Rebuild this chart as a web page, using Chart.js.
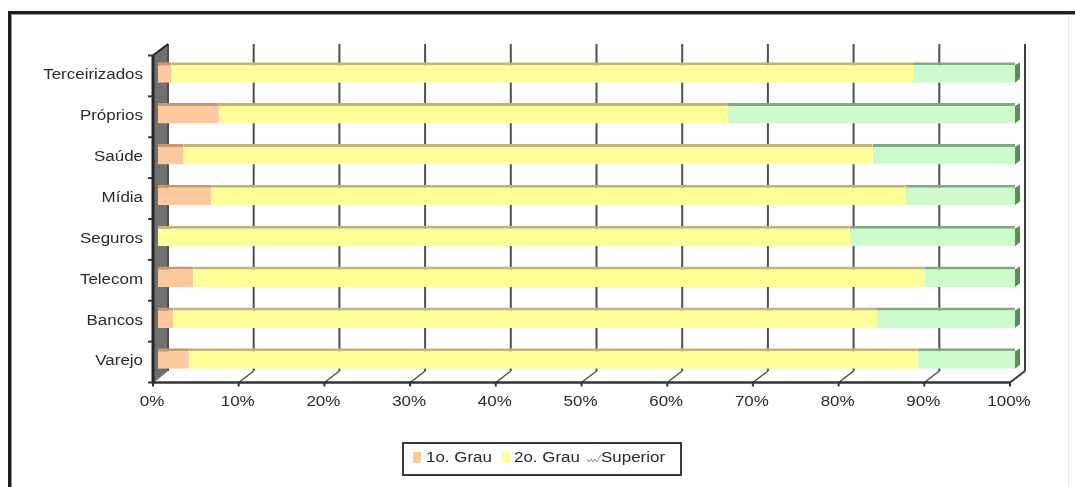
<!DOCTYPE html>
<html>
<head>
<meta charset="utf-8">
<script src="https://cdn.jsdelivr.net/npm/chart.js@4.4.1/dist/chart.umd.min.js"></script>
<style>
  html, body { margin: 0; padding: 0; background: #ffffff; overflow: hidden; }
  canvas { display: block; }
</style>
</head>
<body>
<canvas id="chart" width="1075" height="487"></canvas>
<script>
// Escolaridade por segmento (%), empilhado a 100%
const categories = ['Terceirizados', 'Próprios', 'Saúde', 'Mídia', 'Seguros', 'Telecom', 'Bancos', 'Varejo'];
const primeiroGrau = [1.6, 7.1, 3.0, 6.2, 0, 4.1, 1.8, 3.6];
const segundoGrau  = [86.5, 59.4, 80.4, 81.0, 80.7, 85.3, 82.1, 85.1];
const superior     = [11.9, 33.5, 16.6, 12.8, 19.3, 10.6, 16.1, 11.3];
const seriesNames  = ['1o. Grau', '2o. Grau', 'Superior'];
const tickValues   = [0, 10, 20, 30, 40, 50, 60, 70, 80, 90, 100];
const tickLabels   = ['0%', '10%', '20%', '30%', '40%', '50%', '60%', '70%', '80%', '90%', '100%'];

const FONT = '14px "Liberation Sans", Arial, sans-serif';
const TEXT_COLOR = '#2a2a2a';
const STRETCH = 1.21;           // wide text
const FRONT = { dx: -5, dy: 3.5 };  // front edge of the 3D box, relative to the bars
const BACK  = { dx: 10, dy: -8 };   // back wall, relative to the bars

function wideText(ctx, text, x, y, align) {
  ctx.save();
  ctx.translate(x, y);
  ctx.scale(STRETCH, 1);
  ctx.font = FONT;
  ctx.fillStyle = TEXT_COLOR;
  ctx.textAlign = align;
  ctx.textBaseline = 'middle';
  ctx.fillText(text, 0, 0);
  ctx.restore();
}

function line(ctx, x1, y1, x2, y2, color, w) {
  ctx.beginPath();
  ctx.moveTo(x1, y1);
  ctx.lineTo(x2, y2);
  ctx.strokeStyle = color;
  ctx.lineWidth = w;
  ctx.stroke();
}

const boxPlugin = {
  id: 'box3d',
  beforeDraw(chart) {
    const ctx = chart.ctx;
    ctx.save();
    ctx.fillStyle = '#ffffff';
    ctx.fillRect(0, 0, chart.width, chart.height);
    // outer frame (top and left)
    ctx.fillStyle = '#1e1e1e';
    ctx.fillRect(8, 11, chart.width - 8, 3);
    ctx.fillRect(8, 11, 3, chart.height - 11);
    ctx.fillStyle = '#9a9a9a';
    ctx.fillRect(11, 14, chart.width - 11, 1);
    ctx.fillRect(11, 14, 1, chart.height - 14);
    ctx.fillStyle = '#ececec';
    ctx.fillRect(1068, 15, 1, chart.height - 15);
    ctx.restore();
  },
  beforeDatasetsDraw(chart) {
    const { ctx, chartArea: a, scales: { x } } = chart;
    const fx = v => x.getPixelForValue(v) + FRONT.dx;
    const bk = v => x.getPixelForValue(v) + BACK.dx;
    const fT = a.top + FRONT.dy, fB = a.bottom + FRONT.dy;
    const bT = a.top + BACK.dy,  bB = a.bottom + BACK.dy;
    ctx.save();
    // left wall
    ctx.beginPath();
    ctx.moveTo(fx(0) + 1, fT);
    ctx.lineTo(bk(0), bT);
    ctx.lineTo(bk(0), bB);
    ctx.lineTo(fx(0) + 1, fB);
    ctx.closePath();
    ctx.fillStyle = '#707070';
    ctx.fill();
    // back-wall gridlines and floor lines
    tickValues.forEach(v => {
      line(ctx, bk(v), bT, bk(v), bB, '#4f4f4f', 2);
      if (v > 0) line(ctx, fx(v), fB, bk(v), bB, '#4f4f4f', 1.5);
    });
    ctx.restore();
  },
  afterDatasetsDraw(chart) {
    const { ctx, chartArea: a, scales: { x, y } } = chart;
    const fx = v => x.getPixelForValue(v) + FRONT.dx;
    const bk = v => x.getPixelForValue(v) + BACK.dx;
    const fT = a.top + FRONT.dy, fB = a.bottom + FRONT.dy;
    const bT = a.top + BACK.dy,  bB = a.bottom + BACK.dy;
    ctx.save();

    // dark end caps on the last segment of each bar
    const meta = chart.getDatasetMeta(2);
    meta.data.forEach(el => {
      const top = el.y - el.height / 2, bot = el.y + el.height / 2;
      ctx.beginPath();
      ctx.moveTo(el.x, top + 3);
      ctx.lineTo(el.x + 5, top);
      ctx.lineTo(el.x + 5, bot - 4);
      ctx.lineTo(el.x, bot);
      ctx.closePath();
      ctx.fillStyle = '#5e8a5e';
      ctx.fill();
    });

    // axes
    line(ctx, fx(0), fT, fx(0), fB + 1, '#262626', 3);
    line(ctx, fx(0), fT, bk(0), bT, '#262626', 2);
    line(ctx, fx(0), fB, fx(100), fB, '#333333', 2.5);
    line(ctx, fx(100), fB, bk(100), bB, '#404040', 2);
    line(ctx, bk(100), bT, bk(100), bB, '#404040', 2);
    tickValues.forEach(v => line(ctx, fx(v), fB, fx(v), fB + 4, '#333333', 2));
    const step = (a.bottom - a.top) / categories.length;
    for (let i = 0; i <= categories.length; i++) {
      const yy = a.top + i * step + FRONT.dy;
      line(ctx, fx(0) - 5, yy, fx(0), yy, '#333333', 2);
    }

    // labels
    categories.forEach((c, i) => {
      wideText(ctx, c, 143, y.getPixelForValue(i) + 3, 'right');
    });
    tickValues.forEach((v, i) => {
      wideText(ctx, tickLabels[i], fx(v) - 1, 402, 'center');
    });

    // legend
    const colors = chart.data.datasets.map(d => d.backgroundColor);
    ctx.fillStyle = '#ffffff';
    ctx.fillRect(402, 442, 280, 33);
    ctx.strokeStyle = '#3a3a3a';
    ctx.lineWidth = 2;
    ctx.strokeRect(403, 443, 278, 32);
    ctx.fillStyle = colors[0];
    ctx.fillRect(413, 452, 8, 11);
    wideText(ctx, seriesNames[0], 426, 458, 'left');
    ctx.fillStyle = colors[1];
    ctx.fillRect(501, 452, 9, 11);
    wideText(ctx, seriesNames[1], 514, 458, 'left');
    ctx.beginPath();
    const zx = [587, 589, 591, 593, 595, 597, 599, 601];
    const zy = [459, 462, 459, 462, 459, 462, 458, 455];
    zx.forEach((px, k) => k ? ctx.lineTo(px, zy[k]) : ctx.moveTo(px, zy[k]));
    ctx.strokeStyle = '#3fbf3f';
    ctx.lineWidth = 1;
    ctx.stroke();
    wideText(ctx, seriesNames[2], 601, 458, 'left');

    ctx.restore();
  }
};

new Chart(document.getElementById('chart'), {
  type: 'bar',
  data: {
    labels: categories,
    datasets: [
      { label: seriesNames[0], data: primeiroGrau, backgroundColor: '#fbc99d', borderColor: '#c39a74' },
      { label: seriesNames[1], data: segundoGrau,  backgroundColor: '#ffff99', borderColor: '#bfb47a' },
      { label: seriesNames[2], data: superior,     backgroundColor: '#ccfccc', borderColor: '#86a686' }
    ].map(d => Object.assign(d, {
      borderWidth: { top: 3, right: 0, bottom: 0, left: 0 },
      borderSkipped: false,
      barPercentage: 1,
      categoryPercentage: 0.5
    }))
  },
  options: {
    indexAxis: 'y',
    responsive: false,
    animation: false,
    devicePixelRatio: 1,
    layout: { padding: { left: 158, right: 60, top: 52, bottom: 108 } },
    plugins: { legend: { display: false }, tooltip: { enabled: false } },
    scales: {
      x: { display: false, stacked: true, min: 0, max: 100 },
      y: { display: false, stacked: true }
    }
  },
  plugins: [boxPlugin]
});
</script>
</body>
</html>
